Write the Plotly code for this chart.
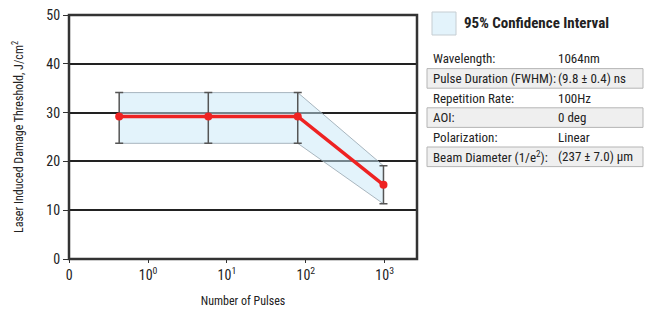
import plotly.graph_objects as go

# ---- data ----
pulses = [0.43, 5.8, 79, 966]
ldt = [29.2, 29.2, 29.2, 15.2]
err_plus = [4.9, 4.9, 4.9, 3.9]
err_minus = [5.5, 5.5, 5.5, 3.9]

x_tickvals = [0.1, 1, 10, 100, 1000]
x_ticktext = ["0", "10<sup>0</sup>", "10<sup>1</sup>", "10<sup>2</sup>", "10<sup>3</sup>"]
y_tickvals = [0, 10, 20, 30, 40, 50]

legend_label = "95% Confidence Interval"
table_labels = ["Wavelength:", "Pulse Duration (FWHM):", "Repetition Rate:", "AOI:",
                "Polarization:", "Beam Diameter (1/e<sup>2</sup>):"]
table_values = ["1064nm", "(9.8 ± 0.4) ns", "100Hz", "0 deg", "Linear", "(237 ± 7.0) μm"]

FONT = "Roboto Condensed, Liberation Sans Narrow, Arial Narrow, Roboto, sans-serif"
TXT = "#222222"

W, H = 650, 315
PLOT_L, PLOT_R, PLOT_T, PLOT_B = 69, 417, 15, 259   # plot area in page pixels
L, T = PLOT_L, PLOT_T
PW, PH = PLOT_R - PLOT_L, PLOT_B - PLOT_T
R, B = W - L - PW, H - T - PH


def px(x):
    return (x - PLOT_L) / PW


def py(y):
    return (PLOT_B - y) / PH


upper = [v + e for v, e in zip(ldt, err_plus)]
lower = [v - e for v, e in zip(ldt, err_minus)]

fig = go.Figure()

# confidence band
fig.add_trace(go.Scatter(x=pulses, y=upper, mode="lines",
                         line=dict(color="rgba(150,165,175,0.8)", width=1),
                         showlegend=False, hoverinfo="skip"))
fig.add_trace(go.Scatter(x=pulses, y=lower, mode="lines", fill="tonexty",
                         fillcolor="rgba(199,231,247,0.5)",
                         line=dict(color="rgba(150,165,175,0.8)", width=1),
                         showlegend=False, hoverinfo="skip"))

# main series with error bars
fig.add_trace(go.Scatter(
    x=pulses, y=ldt, mode="lines+markers",
    line=dict(color="#ee2222", width=3.5),
    marker=dict(color="#ee2222", size=8),
    error_y=dict(type="data", symmetric=False, array=err_plus, arrayminus=err_minus,
                 color="#555555", thickness=1.5, width=4),
    showlegend=False))

fig.update_xaxes(type="log", range=[-1.003, 3.41], tickvals=x_tickvals, ticktext=x_ticktext,
                 showgrid=False, zeroline=False, automargin=False, ticklabeloverflow="allow",
                 showline=False,
                 ticks="outside", ticklen=3, tickcolor="#333333",
                 tickfont=dict(family=FONT, size=14, color=TXT),
                 title=dict(text="Number of Pulses", font=dict(family=FONT, size=12, color=TXT),
                            standoff=14))
fig.update_yaxes(range=[0, 50], tickvals=y_tickvals,
                 showgrid=True, gridcolor="#222222", gridwidth=2, zeroline=False, automargin=False,
                 ticklabeloverflow="allow", showline=False,
                 ticks="outside", ticklen=5, tickcolor="#333333",
                 tickfont=dict(family=FONT, size=14, color=TXT),
                 title=dict(text="Laser Induced Damage Threshold, J/cm<sup>2</sup>",
                            font=dict(family=FONT, size=12, color=TXT), standoff=20))

shapes = []
annotations = []

# plot frame
shapes.append(dict(type="rect", xref="paper", yref="paper", x0=0, x1=1, y0=0, y1=1,
                   fillcolor="rgba(0,0,0,0)", line=dict(color="#333333", width=2.5), layer="above"))

# legend
shapes.append(dict(type="rect", xref="paper", yref="paper",
                   x0=px(432), x1=px(456), y0=py(35), y1=py(12),
                   fillcolor="#e3f3fb", line=dict(color="#c5cdd2", width=1)))
annotations.append(dict(xref="paper", yref="paper", x=px(462), y=py(23),
                        text="<b>" + legend_label + "</b>", showarrow=False,
                        xanchor="left", yanchor="middle",
                        font=dict(family=FONT, size=15, color=TXT)))

# table
row_top = 49
row_h = 19.6
for i, (lab, val) in enumerate(zip(table_labels, table_values)):
    y0 = row_top + i * row_h
    yc = y0 + row_h / 2
    if i % 2 == 1:
        shapes.append(dict(type="rect", xref="paper", yref="paper",
                           x0=px(427), x1=px(643), y0=py(y0 + row_h), y1=py(y0),
                           fillcolor="#efefef", line=dict(color="#b5b5b5", width=1)))
    annotations.append(dict(xref="paper", yref="paper", x=px(431), y=py(yc),
                            text=lab, showarrow=False, xanchor="left", yanchor="middle",
                            font=dict(family=FONT, size=13, color=TXT)))
    annotations.append(dict(xref="paper", yref="paper", x=px(556), y=py(yc),
                            text=val, showarrow=False, xanchor="left", yanchor="middle",
                            font=dict(family=FONT, size=13, color=TXT)))

fig.update_layout(width=W, height=H, margin=dict(l=L, r=R, t=T, b=B, autoexpand=False),
                  plot_bgcolor="white", paper_bgcolor="white",
                  shapes=shapes, annotations=annotations, showlegend=False)

fig.write_html("out.html", config={"displayModeBar": False},
               post_script="document.body.style.margin='0px';")
